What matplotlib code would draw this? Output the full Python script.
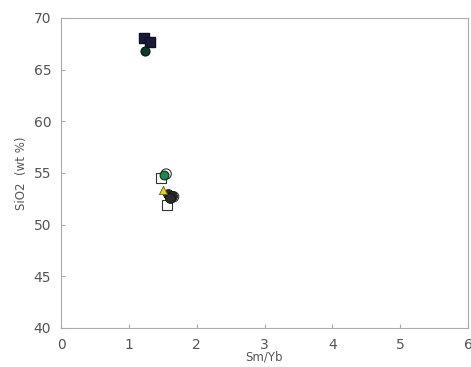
import matplotlib
matplotlib.use("Agg")
from matplotlib import pyplot as plt

# felsic group
sq_x = [1.22, 1.31]
sq_y = [68.1, 67.7]
dc_x = [1.24]
dc_y = [66.8]

# mafic cluster
open_sq_x = [1.47, 1.56]
open_sq_y = [54.5, 51.9]
green_x = [1.52]
green_y = [54.8]
tri_x = [1.50]
tri_y = [53.4]
dark_x = [1.58, 1.63, 1.60]
dark_y = [53.0, 52.8, 52.6]
open_c_x = [1.55, 1.66]
open_c_y = [54.9, 52.7]

fig = plt.figure(figsize=(4.71, 3.67), dpi=100)
ax = fig.add_axes([61/471, 39/367, 407/471, 310/367])

ax.scatter(open_sq_x, open_sq_y, marker='s', s=60, facecolors='white', edgecolors='#333333', linewidths=0.8, zorder=3)
ax.scatter(open_c_x, open_c_y, marker='o', s=55, facecolors='none', edgecolors='#333333', linewidths=0.8, zorder=4)
ax.scatter(green_x, green_y, marker='o', s=40, c='#1a8a4a', edgecolors='#103020', linewidths=0.8, zorder=5)
ax.scatter(tri_x, tri_y, marker='^', s=35, c='#e8d020', edgecolors='#606020', linewidths=0.6, zorder=5)
ax.scatter(dark_x, dark_y, marker='o', s=50, c='#2a2a2a', edgecolors='#111111', linewidths=0.6, zorder=4)
ax.scatter(sq_x, sq_y, marker='s', s=62, c='#1a1a3a', edgecolors='#101020', zorder=3)
ax.scatter(dc_x, dc_y, marker='o', s=40, c='#0f3a24', edgecolors='#0a2018', zorder=3)

ax.set_xlim(0, 6)
ax.set_ylim(40, 70)
ax.set_xticks(range(0, 7))
ax.set_yticks(range(40, 71, 5))
for s in ax.spines.values():
    s.set_color('#aaaaaa')
ax.tick_params(direction='in', colors='#aaaaaa', labelcolor='#555555', labelsize=10, length=3, pad=7)
ax.set_xlabel('Sm/Yb', color='#555555', fontsize=8.5, labelpad=-1)
ax.set_ylabel('SiO2  (wt %)', color='#555555', fontsize=8.5, labelpad=4)

fig.savefig('out.png', dpi=100)
